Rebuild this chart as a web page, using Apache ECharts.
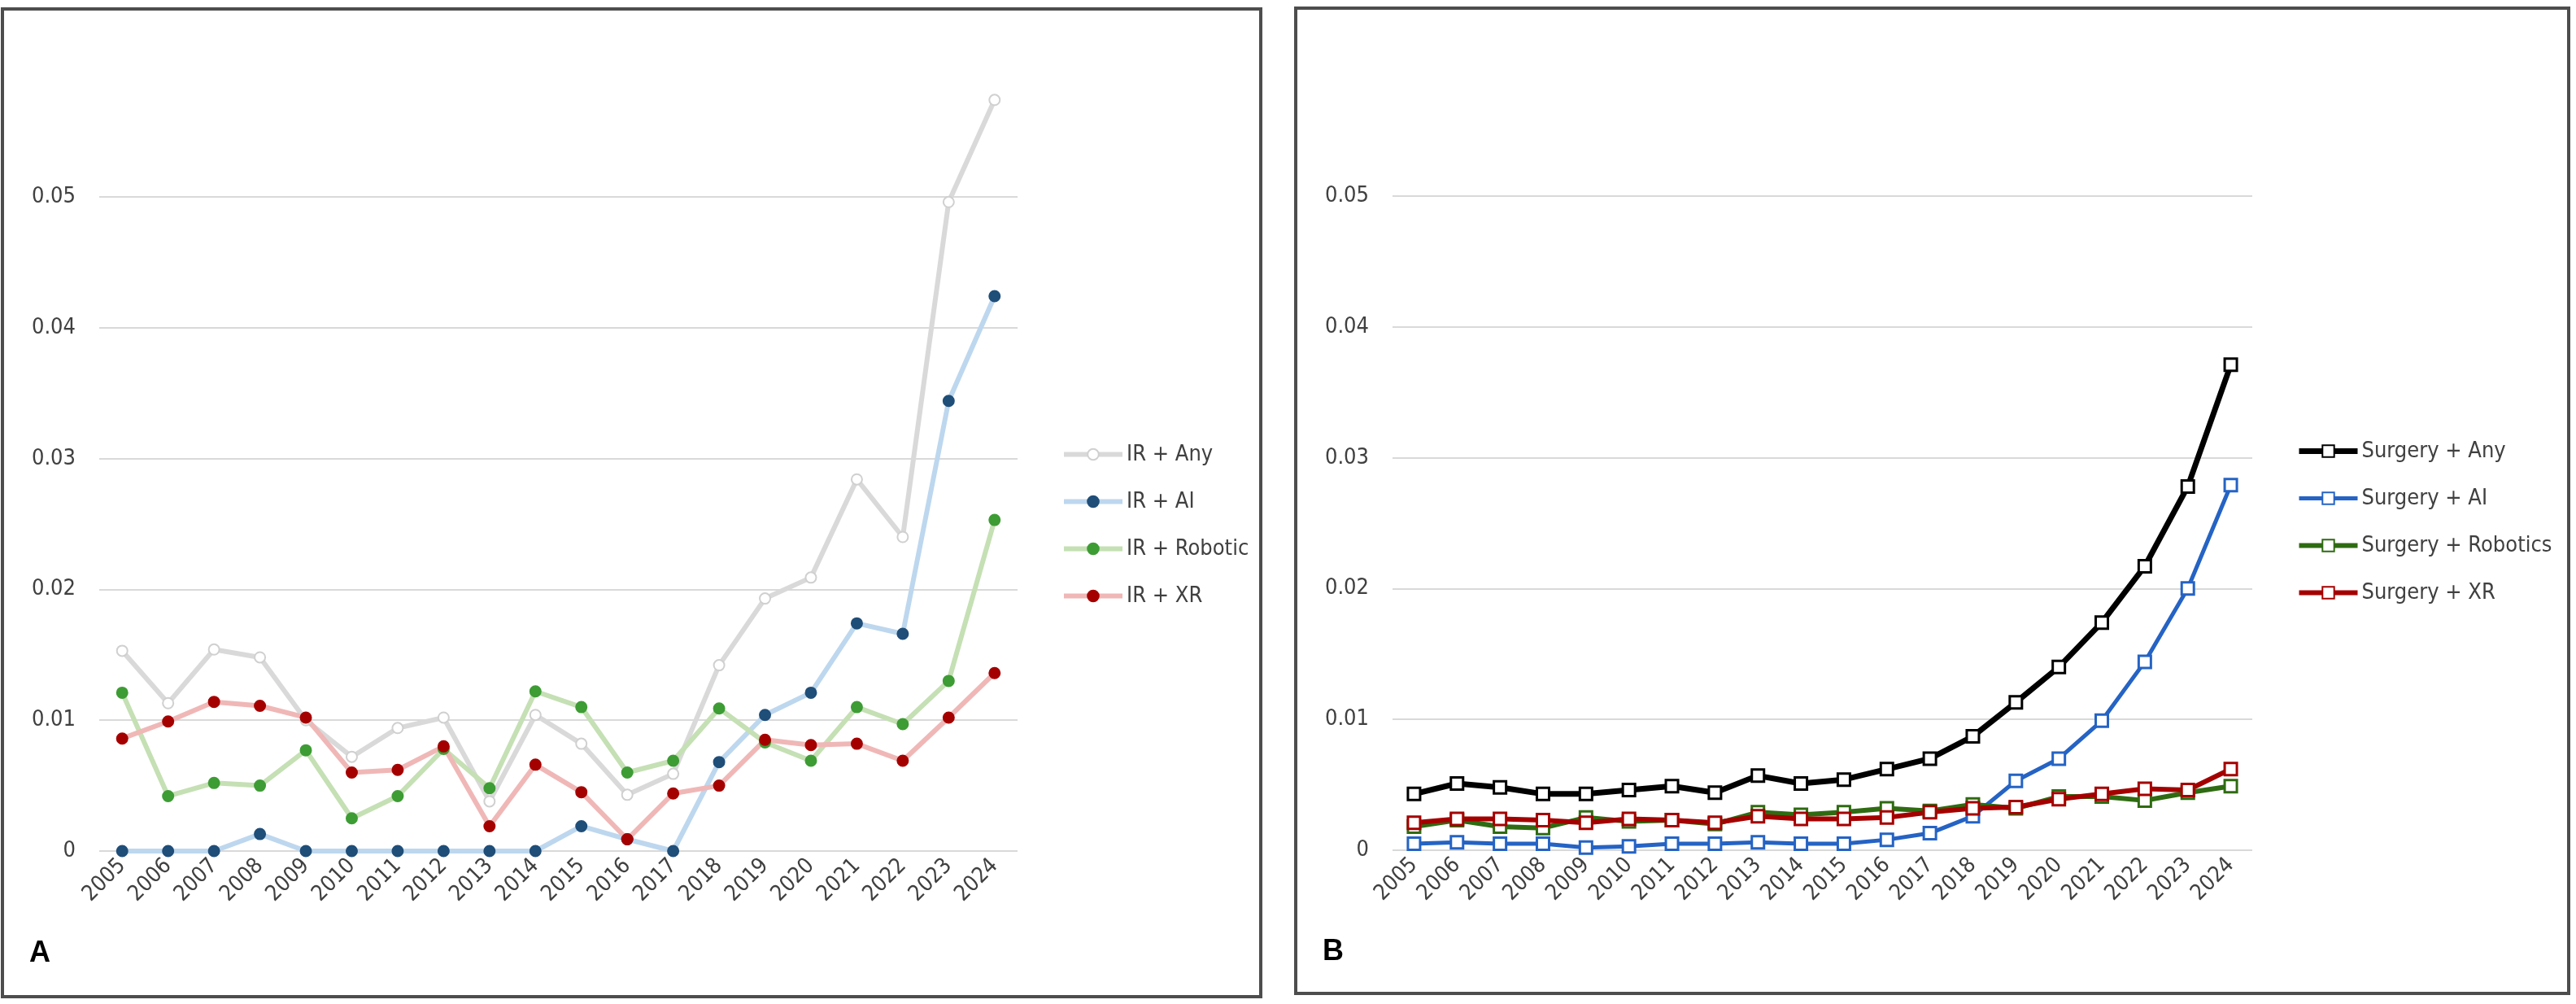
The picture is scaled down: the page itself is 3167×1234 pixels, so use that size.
<!DOCTYPE html>
<html>
<head>
<meta charset="utf-8">
<script src="https://cdn.jsdelivr.net/npm/echarts@6/dist/echarts.min.js"></script>
<style>
html,body{margin:0;padding:0;background:#fff;}
#chart{width:3167px;height:1234px;}
</style>
</head>
<body>
<div id="chart"></div>
<script>
const years = ['2005','2006','2007','2008','2009','2010','2011','2012','2013','2014','2015','2016','2017','2018','2019','2020','2021','2022','2023','2024'];
const yTicks = [0, 0.01, 0.02, 0.03, 0.04, 0.05];

const irAny      = [0.0153,0.0113,0.0154,0.0148,0.0100,0.0072,0.0094,0.0102,0.0038,0.0104,0.0082,0.0043,0.0059,0.0142,0.0193,0.0209,0.0284,0.0240,0.0496,0.0574];
const irAI       = [0,0,0,0.0013,0,0,0,0,0,0,0.0019,0.0009,0,0.0068,0.0104,0.0121,0.0174,0.0166,0.0344,0.0424];
const irRobotic  = [0.0121,0.0042,0.0052,0.0050,0.0077,0.0025,0.0042,0.0078,0.0048,0.0122,0.0110,0.0060,0.0069,0.0109,0.0083,0.0069,0.0110,0.0097,0.0130,0.0253];
const irXR       = [0.0086,0.0099,0.0114,0.0111,0.0102,0.0060,0.0062,0.0080,0.0019,0.0066,0.0045,0.0009,0.0044,0.0050,0.0085,0.0081,0.0082,0.0069,0.0102,0.0136];

const sAny       = [0.0043,0.0051,0.0048,0.0043,0.0043,0.0046,0.0049,0.0044,0.0057,0.0051,0.0054,0.0062,0.0070,0.0087,0.0113,0.0140,0.0174,0.0217,0.0278,0.0371];
const sAI        = [0.0005,0.0006,0.0005,0.0005,0.0002,0.0003,0.0005,0.0005,0.0006,0.0005,0.0005,0.0008,0.0013,0.0026,0.0053,0.0070,0.0099,0.0144,0.0200,0.0279];
const sRobotics  = [0.0018,0.0023,0.0018,0.0017,0.0025,0.0022,0.0023,0.0020,0.0029,0.0027,0.0029,0.0032,0.0030,0.0035,0.0032,0.0041,0.0041,0.0038,0.0044,0.0049];
const sXR        = [0.0021,0.0024,0.0024,0.0023,0.0021,0.0024,0.0023,0.0021,0.0026,0.0024,0.0024,0.0025,0.0029,0.0032,0.0033,0.0039,0.0043,0.0047,0.0046,0.0062];

const FONT = "'Liberation Sans Narrow','DejaVu Sans Condensed','Arial Narrow',sans-serif";
const TXT = '#404040';

function xAxis(gi){
  return {
    type:'category', gridIndex:gi, data:years, boundaryGap:true,
    axisLine:{show:false}, axisTick:{show:false},
    axisLabel:{rotate:45, interval:0, margin:14, color:TXT, fontSize:27, fontFamily:FONT}
  };
}
function yAxis(gi){
  return {
    type:'value', gridIndex:gi, min:0, max:0.06, interval:0.01,
    axisLine:{show:false}, axisTick:{show:false},
    axisLabel:{color:TXT, fontSize:27, fontFamily:FONT, margin:29, showMaxLabel:false,
      formatter:v => (yTicks.indexOf(Math.round(v*100)/100) >= 0 ? (v===0?'0':String(Math.round(v*100)/100)) : '')},
    splitLine:{show:true, showMaxLine:false, lineStyle:{color:'#d9d9d9', width:2}}
  };
}
function irSeries(name, data, lineColor, fill, border){
  return {
    name, type:'line', data, xAxisIndex:0, yAxisIndex:0,
    symbol:'circle', symbolSize:13,
    lineStyle:{color:lineColor, width:6},
    itemStyle:{color:fill, borderColor:border, borderWidth:2},
    emphasis:{disabled:true}, animation:false
  };
}
function sSeries(name, data, color, width){
  return {
    name, type:'line', data, xAxisIndex:1, yAxisIndex:1,
    symbol:'rect', symbolSize:15,
    lineStyle:{color:color, width:width},
    itemStyle:{color:'#ffffff', borderColor:color, borderWidth:3},
    emphasis:{disabled:true}, animation:false
  };
}

const chart = echarts.init(document.getElementById('chart'));
chart.setOption({
  backgroundColor:'#ffffff',
  animation:false,
  textStyle:{fontFamily:FONT},
  grid:[
    {left:122, right:1916, top:81, bottom:188},
    {left:1712, right:398, top:80, bottom:189}
  ],
  xAxis:[xAxis(0), xAxis(1)],
  yAxis:[yAxis(0), yAxis(1)],
  legend:[
    {data:['IR + Any','IR + AI','IR + Robotic','IR + XR'], orient:'vertical', left:1300, top:540,
     itemWidth:72, itemHeight:17, itemGap:31, lineStyle:{width:'inherit'},
     textStyle:{fontSize:27, color:TXT, fontFamily:FONT}},
    {data:['Surgery + Any','Surgery + AI','Surgery + Robotics','Surgery + XR'], orient:'vertical', left:2818, top:536,
     itemWidth:72, itemHeight:18, itemGap:31, lineStyle:{width:'inherit'},
     textStyle:{fontSize:27, color:TXT, fontFamily:FONT}}
  ],
  graphic:[
    {type:'rect', shape:{x:3, y:11, width:1547, height:1214}, style:{fill:'none', stroke:'#4d4d4d', lineWidth:4}, silent:true},
    {type:'rect', shape:{x:1593, y:10, width:1565, height:1211}, style:{fill:'none', stroke:'#4d4d4d', lineWidth:4}, silent:true},
    {type:'text', left:36, top:1154, style:{text:'A', font:"bold 36px 'Liberation Sans','DejaVu Sans',sans-serif", fill:'#000'}},
    {type:'text', left:1626, top:1152, style:{text:'B', font:"bold 36px 'Liberation Sans','DejaVu Sans',sans-serif", fill:'#000'}}
  ],
  series:[
    irSeries('IR + Any', irAny, '#d9d9d9', '#ffffff', '#d0d0d0'),
    irSeries('IR + AI', irAI, '#bdd7ee', '#1f4e79', '#1f4e79'),
    irSeries('IR + Robotic', irRobotic, '#c5e0b4', '#3e9c35', '#3e9c35'),
    irSeries('IR + XR', irXR, '#f0b7b7', '#a50000', '#a50000'),
    sSeries('Surgery + Any', sAny, '#000000', 7),
    sSeries('Surgery + AI', sAI, '#2563c4', 5),
    sSeries('Surgery + Robotics', sRobotics, '#2f6b12', 6),
    sSeries('Surgery + XR', sXR, '#a50000', 6)
  ]
});
</script>
</body>
</html>
